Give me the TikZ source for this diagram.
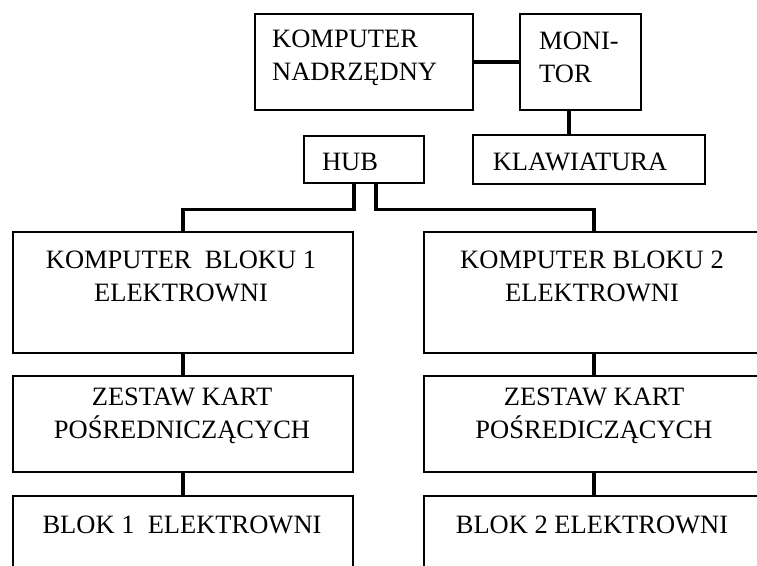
\documentclass[tikz,border=0pt]{standalone}
\usepackage{fontspec}
\setmainfont{Liberation Serif}
\begin{document}
\begin{tikzpicture}[x=1pt,y=-1pt,
  box/.style={draw,line width=1.5pt,rectangle,inner sep=0pt,anchor=north west},
  txt/.style={inner sep=0pt,font=\fontsize{26.5}{33}\selectfont,align=center},
  wire/.style={line width=3.8pt,line cap=butt}]
\useasboundingbox (0,0) rectangle (757,565);
\clip (0,0) rectangle (757,565);
% boxes
\node[box,minimum width=218pt,minimum height=96pt] (kn) at (254,13) {};
\node[box,minimum width=121pt,minimum height=96pt] (mon) at (519,13) {};
\node[box,minimum width=232pt,minimum height=49pt] (klaw) at (472,134) {};
\node[box,minimum width=120pt,minimum height=47pt] (hub) at (303,135) {};
\node[box,minimum width=340pt,minimum height=121pt] (kb1) at (12,231) {};
\node[box,minimum width=340pt,minimum height=121pt] (kb2) at (423,231) {};
\node[box,minimum width=340pt,minimum height=96pt] (zk1) at (12,375) {};
\node[box,minimum width=340pt,minimum height=96pt] (zk2) at (423,375) {};
\node[box,minimum width=340pt,minimum height=100pt] (bl1) at (12,495) {};
\node[box,minimum width=340pt,minimum height=100pt] (bl2) at (423,495) {};
% texts
\node[txt,align=left,anchor=west] (tkn) at (272,58) {KOMPUTER\\NADRZĘDNY};
\node[txt,align=left,anchor=west] (tmon) at (539,57) {MONI-\\TOR};
\node[txt] (tklaw) at (580,162) {KLAWIATURA};
\node[txt] (thub) at (350,162) {HUB};
\node[txt] (tkb1) at (181,276) {KOMPUTER\ \ BLOKU 1\\ELEKTROWNI};
\node[txt] (tkb2) at (592,276) {KOMPUTER BLOKU 2\\ELEKTROWNI};
\node[txt] (tzk1) at (182,416) {ZESTAW KART\\POŚREDNICZĄCYCH};
\node[txt] (tzk2) at (594,416) {ZESTAW KART\\POŚREDICZĄCYCH};
\node[txt] (tbl1) at (182,525) {BLOK 1\ \ ELEKTROWNI};
\node[txt] (tbl2) at (592,525) {BLOK 2 ELEKTROWNI};
% connectors
\draw[wire] (kn.east) -- (mon.west);
\draw[wire] ([xshift=-11.5pt]mon.south) -- ([xshift=-11.5pt]mon.south |- klaw.north);
\draw[wire] ([xshift=-10pt]hub.south) -- ++(0,26) -| (kb1.north);
\draw[wire] ([xshift=12pt]hub.south) -- ++(0,26) -| (kb2.north);
\draw[wire] (kb1.south) -- (zk1.north);
\draw[wire] (zk1.south) -- (bl1.north);
\draw[wire] (kb2.south) -- (zk2.north);
\draw[wire] (zk2.south) -- (bl2.north);
\end{tikzpicture}
\end{document}
